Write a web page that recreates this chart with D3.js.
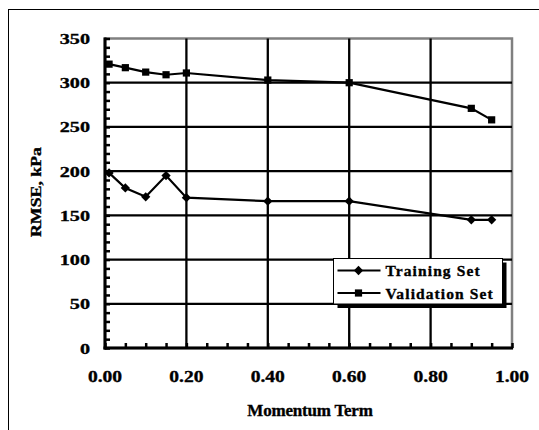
<!DOCTYPE html>
<html>
<head>
<meta charset="utf-8">
<script src="https://cdn.jsdelivr.net/npm/d3@7"></script>
<style>
  html, body { margin: 0; padding: 0; background: #fff; }
  svg { display: block; }
  text { font-family: "Liberation Serif", "Times New Roman", serif; font-weight: bold; fill: #000; stroke: #000; stroke-width: 0.35px; }
</style>
</head>
<body>
<div id="chart"></div>
<script>
// Momentum term values (x) and RMSE in kPa for each set
const momentum = [0.01, 0.05, 0.1, 0.15, 0.2, 0.4, 0.6, 0.9, 0.95];
const trainingSet = [198, 181, 171, 195, 170, 166, 166, 145, 145];
const validationSet = [321, 317, 312, 309, 311, 303, 300, 271, 258];
const xTicks = [0, 0.2, 0.4, 0.6, 0.8, 1.0];
const yTicks = [0, 50, 100, 150, 200, 250, 300, 350];
const seriesNames = ["Training Set", "Validation Set"];

function drawChart() {
  const width = 539;
  const height = 430;
  const plot = { left: 105, right: 512, top: 38.5, bottom: 348 };

  const svg = d3
    .select("#chart")
    .append("svg")
    .attr("width", width)
    .attr("height", height);

  // Outer chart frame (runs off the right and bottom of the picture)
  svg
    .append("rect")
    .attr("x", 8.5)
    .attr("y", 9.5)
    .attr("width", width + 20)
    .attr("height", height + 20)
    .attr("fill", "#fff")
    .attr("stroke", "#000")
    .attr("stroke-width", 1);

  const x = d3.scaleLinear().domain([0, 1]).range([plot.left, plot.right]);
  const y = d3.scaleLinear().domain([0, 350]).range([plot.bottom, plot.top]);

  // Plot area border
  svg
    .append("rect")
    .attr("x", plot.left)
    .attr("y", plot.top)
    .attr("width", plot.right - plot.left)
    .attr("height", plot.bottom - plot.top)
    .attr("fill", "none")
    .attr("stroke", "#808080")
    .attr("stroke-width", 2.5);

  // Gridlines
  svg
    .append("g")
    .selectAll("line.hgrid")
    .data(yTicks.slice(1, -1))
    .enter()
    .append("line")
    .attr("x1", plot.left)
    .attr("x2", plot.right)
    .attr("y1", (d) => y(d))
    .attr("y2", (d) => y(d))
    .attr("stroke", "#000")
    .attr("stroke-width", 2.3);

  svg
    .append("g")
    .selectAll("line.vgrid")
    .data(xTicks.slice(1, -1))
    .enter()
    .append("line")
    .attr("x1", (d) => x(d))
    .attr("x2", (d) => x(d))
    .attr("y1", plot.top)
    .attr("y2", plot.bottom)
    .attr("stroke", "#000")
    .attr("stroke-width", 2.3);

  // Minor ticks (inside)
  const yAxisMinor = d3.axisRight(y).ticks(35).tickSize(5).tickFormat("");
  const gyMinor = svg
    .append("g")
    .attr("transform", `translate(${plot.left},0)`)
    .call(yAxisMinor);
  gyMinor.select(".domain").remove();
  gyMinor.selectAll("line").attr("stroke-width", 2.5);

  const xAxisMinor = d3.axisTop(x).ticks(25).tickSize(5).tickFormat("");
  const gxMinor = svg
    .append("g")
    .attr("transform", `translate(0,${plot.bottom})`)
    .call(xAxisMinor);
  gxMinor.select(".domain").remove();
  gxMinor.selectAll("line").attr("stroke-width", 2.5);

  // Axis lines
  svg
    .append("line")
    .attr("x1", plot.left)
    .attr("x2", plot.left)
    .attr("y1", plot.top - 1)
    .attr("y2", plot.bottom + 1.5)
    .attr("stroke", "#000")
    .attr("stroke-width", 3);
  svg
    .append("line")
    .attr("x1", plot.left - 1.5)
    .attr("x2", plot.right + 1)
    .attr("y1", plot.bottom)
    .attr("y2", plot.bottom)
    .attr("stroke", "#000")
    .attr("stroke-width", 3);

  // Tick labels
  svg
    .append("g")
    .selectAll("text")
    .data(yTicks)
    .enter()
    .append("text")
    .attr("transform", (d) => `translate(90,${y(d) + 5.5}) scale(1.3,1)`)
    .attr("text-anchor", "end")
    .style("font-size", "15.5px")
    .text((d) => d);

  svg
    .append("g")
    .selectAll("text")
    .data(xTicks)
    .enter()
    .append("text")
    .attr("transform", (d) => `translate(${x(d)},381.5) scale(1.15,1)`)
    .attr("text-anchor", "middle")
    .style("font-size", "17px")
    .text((d) => d.toFixed(2));

  // Axis titles
  svg
    .append("text")
    .attr("transform", "translate(41,192) rotate(-90) scale(1.15,1)")
    .attr("text-anchor", "middle")
    .style("font-size", "15.5px")
    .text("RMSE, kPa");

  svg
    .append("text")
    .attr("x", 310)
    .attr("y", 416)
    .attr("text-anchor", "middle")
    .style("font-size", "17px")
    .style("letter-spacing", "-0.2px")
    .text("Momentum Term");

  // Series lines and markers
  const line = d3
    .line()
    .x((d) => x(d[0]))
    .y((d) => y(d[1]));

  const trainPts = momentum.map((m, i) => [m, trainingSet[i]]);
  const validPts = momentum.map((m, i) => [m, validationSet[i]]);

  const diamond = d3.symbol().type(d3.symbolDiamond2 || d3.symbolDiamond).size(55);
  const square = d3.symbol().type(d3.symbolSquare).size(52);

  [
    { pts: trainPts, sym: diamond },
    { pts: validPts, sym: square },
  ].forEach((s) => {
    svg
      .append("path")
      .attr("d", line(s.pts))
      .attr("fill", "none")
      .attr("stroke", "#000")
      .attr("stroke-width", 2.2);
    svg
      .append("g")
      .selectAll("path")
      .data(s.pts)
      .enter()
      .append("path")
      .attr("transform", (d) => `translate(${x(d[0])},${y(d[1])})`)
      .attr("d", s.sym())
      .attr("fill", "#000");
  });

  // Legend with drop shadow
  const lg = { x: 333.5, y: 258.5, w: 169, h: 45.5 };
  svg
    .append("rect")
    .attr("x", lg.x + 4)
    .attr("y", lg.y + 4)
    .attr("width", lg.w)
    .attr("height", lg.h)
    .attr("fill", "#000");
  svg
    .append("rect")
    .attr("x", lg.x)
    .attr("y", lg.y)
    .attr("width", lg.w)
    .attr("height", lg.h)
    .attr("fill", "#fff")
    .attr("stroke", "#000")
    .attr("stroke-width", 1);

  const legendSyms = [diamond, square];
  seriesNames.forEach((name, i) => {
    const ly = lg.y + 12 + i * 22.5;
    svg
      .append("line")
      .attr("x1", lg.x + 4)
      .attr("x2", lg.x + 47)
      .attr("y1", ly)
      .attr("y2", ly)
      .attr("stroke", "#000")
      .attr("stroke-width", 2.2);
    svg
      .append("path")
      .attr("transform", `translate(${lg.x + 25},${ly})`)
      .attr("d", legendSyms[i]())
      .attr("fill", "#000");
    svg
      .append("text")
      .attr("x", lg.x + 52)
      .attr("y", ly + 5.5)
      .style("font-size", "15.5px")
      .style("letter-spacing", "1.1px")
      .text(name);
  });
}

drawChart();
</script>
</body>
</html>
